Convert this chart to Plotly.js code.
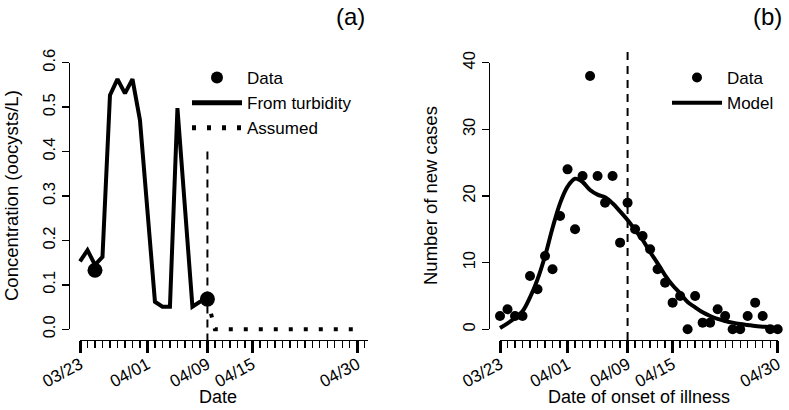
<!DOCTYPE html>
<html>
<head>
<meta charset="utf-8">
<script src="https://cdn.plot.ly/plotly-3.0.1.min.js"></script>
<style>
  html, body { margin: 0; padding: 0; background: #fff; }
  #plotArea { width: 789px; height: 410px; }
</style>
</head>
<body>
<div id="plotArea"></div>
<script>
// days counted from 03/23
var tickDays = [0, 9, 17, 23, 37];
var tickLabels = ["03/23", "04/01", "04/09", "04/15", "04/30"];

// (a) concentration
var turbDays = [0, 1, 2, 3, 4, 5, 6, 7, 8, 9, 10, 11, 12, 13, 14, 15, 16, 17];
var turbConc = [0.153, 0.178, 0.145, 0.163, 0.527, 0.563, 0.531, 0.563, 0.471, 0.266,
                0.062, 0.051, 0.051, 0.498, 0.274, 0.051, 0.062, 0.068];
var sampleDays = [2, 17];
var sampleConc = [0.133, 0.068];
var assumedDays = [17, 18, 37];
var assumedConc = [0.068, 0, 0];

// (b) cases
var caseDays = [0, 1, 2, 3, 4, 5, 6, 7, 8, 9, 10, 11, 12, 13, 14, 15, 16, 17, 18, 19,
                20, 21, 22, 23, 24, 25, 26, 27, 28, 29, 30, 31, 32, 33, 34, 35, 36, 37];
var newCases = [2, 3, 2, 2, 8, 6, 11, 9, 17, 24, 15, 23, 38, 23, 19, 23, 13, 19, 15, 14,
                12, 9, 7, 4, 5, 0, 5, 1, 1, 3, 2, 0, 0, 2, 4, 2, 0, 0];
var modelCases = [0.2, 0.9, 1.7, 2.7, 4.8, 7.5, 11.0, 15.2, 18.9, 21.4, 22.6, 22.1, 20.9, 20.2,
                  19.8, 18.9, 17.7, 16.4, 14.9, 13.4, 11.6, 9.9, 8.1, 6.6, 5.4, 4.1, 3.3, 2.55,
                  2.0, 1.55, 1.25, 1.0, 0.8, 0.65, 0.5, 0.4, 0.3, 0.25];

var cutoffDay = 17;
var cutoffTopA = 0.4;

// axis ranges (R style: data region padded 4%)
var dataXRangeA = [-1.48, 38.48], dataYRangeA = [-0.024, 0.624];
var axisXRangeA = [0, 38.4], axisYRangeA = [0, 0.6];
var dataXRangeB = [-1.48, 38.48], dataYRangeB = [-1.6, 41.6];
var axisXRangeB = [0, 37], axisYRangeB = [0, 40];

// pixel geometry of the two panels
var W = 789, H = 410;
var A = {x0: 80, kx: 7.495, y0: 329.3, ky: 444.33};
var B = {x0: 500, kx: 7.505, y0: 329.3, ky: 6.665};
function xdom(g, r) { return [(g.x0 + r[0] * g.kx) / W, Math.min(1, (g.x0 + r[1] * g.kx) / W)]; }
function ydom(g, r) { return [1 - (g.y0 - r[0] * g.ky) / H, 1 - (g.y0 - r[1] * g.ky) / H]; }

var font = "Liberation Sans, Arial, Helvetica, sans-serif";

var traces = [
  {x: sampleDays, y: sampleConc, xaxis: "x3", yaxis: "y3", name: "Data", mode: "markers",
   marker: {color: "black", size: 15}, cliponaxis: false, legend: "legend"},
  {x: turbDays, y: turbConc, xaxis: "x", yaxis: "y", name: "From turbidity", mode: "lines",
   line: {color: "black", width: 4}, legend: "legend"},
  {x: assumedDays, y: assumedConc, xaxis: "x", yaxis: "y", name: "Assumed", mode: "lines",
   line: {color: "black", width: 4, dash: "4px,11px"}, legend: "legend"},
  {x: [cutoffDay, cutoffDay], y: [cutoffTopA, dataYRangeA[0]], xaxis: "x", yaxis: "y", mode: "lines",
   line: {color: "black", width: 2, dash: "8px,6px"}, showlegend: false},

  {x: caseDays, y: newCases, xaxis: "x4", yaxis: "y4", name: "Data", mode: "markers",
   marker: {color: "black", size: 10}, cliponaxis: false, legend: "legend2"},
  {x: caseDays, y: modelCases, xaxis: "x2", yaxis: "y2", name: "Model", mode: "lines",
   line: {color: "black", width: 4, shape: "spline", smoothing: 1}, legend: "legend2"},
  {x: [cutoffDay, cutoffDay], y: [dataYRangeB[1], dataYRangeB[0]], xaxis: "x2", yaxis: "y2", mode: "lines",
   line: {color: "black", width: 2, dash: "8px,6px"}, showlegend: false}
];

function hidden(dom, rng, anchor) {
  return {domain: dom, range: rng, visible: false, anchor: anchor, fixedrange: true};
}
function xShown(dom, rng, pos) {
  return {domain: dom, range: rng, anchor: "free", position: pos, showgrid: false, zeroline: false,
    showline: true, linecolor: "black", linewidth: 1.3,
    tickmode: "array", tickvals: tickDays, ticktext: tickLabels, tickangle: -28,
    ticks: "outside", ticklen: 12, tickwidth: 3, tickcolor: "black", ticklabelstandoff: -5,
    minor: {tickmode: "linear", tick0: 0, dtick: 1, ticks: "outside", ticklen: 7, tickwidth: 1.3, tickcolor: "black"},
    tickfont: {family: font, size: 17, color: "black"}};
}
function yShown(dom, rng, pos, step, fmt) {
  return {domain: dom, range: rng, anchor: "free", position: pos, showgrid: false, zeroline: false,
    showline: true, linecolor: "black", linewidth: 1.3,
    tickmode: "linear", tick0: 0, dtick: step, tickformat: fmt, tickangle: -90,
    ticks: "outside", ticklen: 7, tickwidth: 1.3, tickcolor: "black",
    tickfont: {family: font, size: 16.5, color: "black"}};
}

var domXA = xdom(A, dataXRangeA), domYA = ydom(A, dataYRangeA);
var domXB = xdom(B, dataXRangeB), domYB = ydom(B, dataYRangeB);

function label(txt, px, py, size, angle) {
  return {text: txt, x: px / W, y: 1 - py / H, xref: "paper", yref: "paper", showarrow: false,
    xanchor: "center", yanchor: "middle", textangle: angle || 0, font: {size: size}};
}

var layout = {
  width: W, height: H,
  margin: {l: 0, r: 0, t: 0, b: 0},
  paper_bgcolor: "white", plot_bgcolor: "rgba(0,0,0,0)",
  font: {family: font, color: "black"},
  xaxis: hidden(domXA, dataXRangeA, "y"),
  yaxis: hidden(domYA, dataYRangeA, "x"),
  xaxis2: hidden(domXB, dataXRangeB, "y2"),
  yaxis2: hidden(domYB, dataYRangeB, "x2"),
  xaxis3: xShown(xdom(A, axisXRangeA), axisXRangeA, domYA[0]),
  yaxis3: yShown(ydom(A, axisYRangeA), axisYRangeA, domXA[0], 0.1, ".1f"),
  xaxis4: xShown(xdom(B, axisXRangeB), axisXRangeB, domYB[0]),
  yaxis4: yShown(ydom(B, axisYRangeB), axisYRangeB, domXB[0], 10, "d"),
  legend: {x: 187 / W, y: 1 - 60 / H, xanchor: "left", yanchor: "top", bgcolor: "rgba(0,0,0,0)",
    font: {family: font, size: 17, color: "black"}, itemsizing: "constant", itemwidth: 50,
    tracegroupgap: 0},
  legend2: {x: 667 / W, y: 1 - 60 / H, xanchor: "left", yanchor: "top", bgcolor: "rgba(0,0,0,0)",
    font: {family: font, size: 17, color: "black"}, itemwidth: 50, tracegroupgap: 0},
  annotations: [
    label("(a)", 350, 16, 24),
    label("(b)", 767, 16, 24),
    label("Date", 218, 397, 18),
    label("Date of onset of illness", 639, 397, 18),
    label("Concentration (oocysts/L)", 11, 196, 18.5, -90),
    label("Number of new cases", 430, 196, 18.5, -90)
  ]
};

Plotly.newPlot("plotArea", traces, layout, {staticPlot: true, displayModeBar: false});
</script>
</body>
</html>
